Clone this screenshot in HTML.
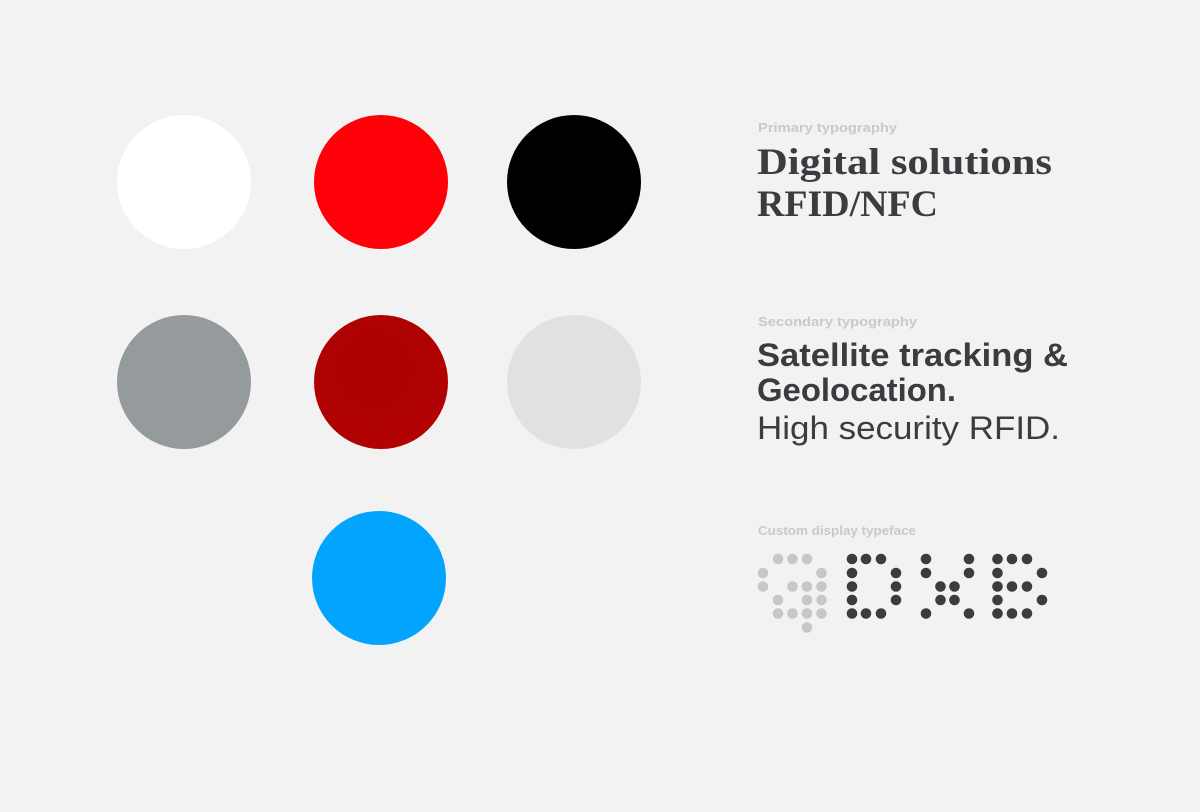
<!DOCTYPE html>
<html><head><meta charset="utf-8">
<style>
html,body{margin:0;padding:0;background:#f2f2f2;}
svg{display:block;}
</style></head>
<body>
<svg width="1200" height="812" viewBox="0 0 1200 812" xmlns="http://www.w3.org/2000/svg">
<defs>
<radialGradient id="dr" cx="0.45" cy="0.4" r="0.6">
<stop offset="0" stop-color="#a80000"/><stop offset="1" stop-color="#b20203"/>
</radialGradient>
</defs>
<rect width="1200" height="812" fill="#f2f2f2"/>
<circle cx="184" cy="182" r="67" fill="#ffffff"/>
<circle cx="381" cy="182" r="67" fill="#ff0008"/>
<circle cx="574" cy="182" r="67" fill="#000000"/>
<circle cx="184" cy="382" r="67" fill="#959a9c"/>
<circle cx="381" cy="382" r="67" fill="url(#dr)"/>
<circle cx="574" cy="382" r="67" fill="#e0e1e3"/>
<circle cx="379" cy="578" r="67" fill="#02a4fe"/>

<g font-family="Liberation Sans, sans-serif" font-weight="bold" font-size="13" fill="#c9c9c9">
<text x="758" y="132" textLength="139" lengthAdjust="spacingAndGlyphs">Primary typography</text>
<text x="758" y="326" textLength="159" lengthAdjust="spacingAndGlyphs">Secondary typography</text>
<text x="758" y="535" textLength="158" lengthAdjust="spacingAndGlyphs">Custom display typeface</text>
</g>
<g font-family="Liberation Serif, serif" font-weight="bold" font-size="37" fill="#3c3c40">
<text x="757" y="174" textLength="295" lengthAdjust="spacingAndGlyphs">Digital solutions</text>
<text x="757" y="216" textLength="181" lengthAdjust="spacingAndGlyphs">RFID/NFC</text>
</g>
<g font-family="Liberation Sans, sans-serif" font-size="32" fill="#3c3c40">
<text x="757" y="366" font-weight="bold" textLength="311" lengthAdjust="spacingAndGlyphs">Satellite tracking &amp;</text>
<text x="757" y="401" font-weight="bold" textLength="199" lengthAdjust="spacingAndGlyphs">Geolocation.</text>
<text x="757" y="439" textLength="303" lengthAdjust="spacingAndGlyphs">High security RFID.</text>
</g>

<g fill="#c7c7c9">
<circle cx="778" cy="559" r="5.3"/><circle cx="792.5" cy="559" r="5.3"/><circle cx="807" cy="559" r="5.3"/>
<circle cx="763" cy="573" r="5.3"/><circle cx="821.5" cy="573" r="5.3"/>
<circle cx="763" cy="586.5" r="5.3"/><circle cx="792.5" cy="586.5" r="5.3"/><circle cx="807" cy="586.5" r="5.3"/><circle cx="821.5" cy="586.5" r="5.3"/>
<circle cx="778" cy="600" r="5.3"/><circle cx="807" cy="600" r="5.3"/><circle cx="821.5" cy="600" r="5.3"/>
<circle cx="778" cy="613.5" r="5.3"/><circle cx="792.5" cy="613.5" r="5.3"/><circle cx="807" cy="613.5" r="5.3"/><circle cx="821.5" cy="613.5" r="5.3"/>
<circle cx="807" cy="627.5" r="5.3"/>
</g>
<g fill="#3c3c40">
<!-- D -->
<circle cx="852" cy="559" r="5.3"/><circle cx="866" cy="559" r="5.3"/><circle cx="881" cy="559" r="5.3"/>
<circle cx="852" cy="573" r="5.3"/><circle cx="896" cy="573" r="5.3"/>
<circle cx="852" cy="586.5" r="5.3"/><circle cx="896" cy="586.5" r="5.3"/>
<circle cx="852" cy="600" r="5.3"/><circle cx="896" cy="600" r="5.3"/>
<circle cx="852" cy="613.5" r="5.3"/><circle cx="866" cy="613.5" r="5.3"/><circle cx="881" cy="613.5" r="5.3"/>
<!-- X -->
<circle cx="926" cy="559" r="5.3"/><circle cx="969" cy="559" r="5.3"/>
<circle cx="926" cy="573" r="5.3"/><circle cx="969" cy="573" r="5.3"/>
<circle cx="940.5" cy="586.5" r="5.3"/><circle cx="954.5" cy="586.5" r="5.3"/>
<circle cx="940.5" cy="600" r="5.3"/><circle cx="954.5" cy="600" r="5.3"/>
<circle cx="926" cy="613.5" r="5.3"/><circle cx="969" cy="613.5" r="5.3"/>
<!-- B -->
<circle cx="997.5" cy="559" r="5.3"/><circle cx="1012" cy="559" r="5.3"/><circle cx="1027" cy="559" r="5.3"/>
<circle cx="997.5" cy="573" r="5.3"/><circle cx="1042" cy="573" r="5.3"/>
<circle cx="997.5" cy="586.5" r="5.3"/><circle cx="1012" cy="586.5" r="5.3"/><circle cx="1027" cy="586.5" r="5.3"/>
<circle cx="997.5" cy="600" r="5.3"/><circle cx="1042" cy="600" r="5.3"/>
<circle cx="997.5" cy="613.5" r="5.3"/><circle cx="1012" cy="613.5" r="5.3"/><circle cx="1027" cy="613.5" r="5.3"/>
</g>
</svg>
</body></html>
